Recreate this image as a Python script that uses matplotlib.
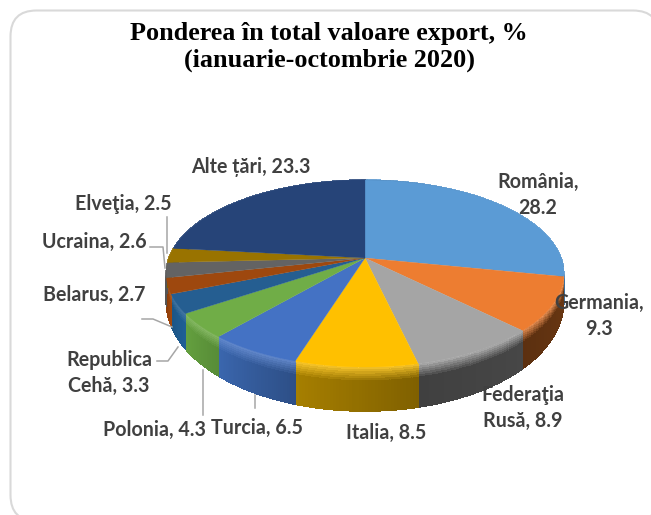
import numpy as np
import matplotlib
matplotlib.use('Agg')
import matplotlib.pyplot as plt
from matplotlib.collections import PolyCollection
from matplotlib.colors import to_rgb
from matplotlib.patches import FancyBboxPatch

# share of total export value, %
countries = ['România', 'Germania', 'Federaţia Rusă', 'Italia', 'Turcia', 'Polonia',
             'Republica Cehă', 'Belarus', 'Ucraina', 'Elveţia', 'Alte țări']
shares = [28.2, 9.3, 8.9, 8.5, 6.5, 4.3, 3.3, 2.7, 2.6, 2.5, 23.3]

top_colors = ['#5B9BD5', '#ED7D31', '#A5A5A5', '#FFC000', '#4472C4', '#70AD47',
              '#255E91', '#9E480E', '#636363', '#997300', '#264478']
wall_start = ['#3F6F9C', '#6B3812', '#474747', '#7F6000', '#2D4F86', '#578C37',
              '#1F5F96', '#A3480C', '#555555', '#806000', '#264478']
wall_end = ['#3F6F9C', '#5C3010', '#404040', '#A67F00', '#3A66AE', '#64A03F',
            '#1C5585', '#8A3D0A', '#555555', '#806000', '#264478']

label_text = ['România,\n28.2', 'Germania,\n9.3', 'Federaţia\nRusă, 8.9', 'Italia, 8.5',
              'Turcia, 6.5', 'Polonia, 4.3', 'Republica\nCehă, 3.3', 'Belarus, 2.7',
              'Ucraina, 2.6', 'Elveţia, 2.5', 'Alte țări, 23.3']
label_xy = [(538, 195), (599, 316), (523, 408), (386, 433), (257, 428), (154, 430),
            (109, 373), (94, 295), (94, 242), (123, 204), (251, 167)]

leaders = [[(167, 217), (167, 253)],
           [(150, 247), (163, 247), (165, 268)],
           [(142, 319), (153, 319), (172, 327)],
           [(157, 361), (168, 361), (178, 347)],
           [(203, 370), (203, 415)],
           [(255, 395), (255, 408)]]

# perspective of the pie, in pixels
cx, cy = 365, 258
a, b, k = 196, 90.9, 0.166


def project(theta, r=1.0, t=0.0):
    u, v = r * np.sin(theta), r * np.cos(theta)
    den = 1 + k * v
    depth = 24 - 20 * v
    return cx + a * u / den, cy - b * v / den + t * np.clip(depth, 0, None)


def mix(c1, c2, w):
    c1, c2 = np.array(to_rgb(c1)), np.array(to_rgb(c2))
    return tuple(c1 * (1 - w) + c2 * w)


fig = plt.figure(figsize=(6.51, 5.15), dpi=100)
ax = fig.add_axes([0, 0, 1, 1])
ax.set_xlim(0, 651)
ax.set_ylim(515, 0)
ax.axis('off')

ax.add_patch(FancyBboxPatch((10.5, 10.5), 648.5, 510.5, boxstyle='round,pad=0,rounding_size=26',
                            fc='white', ec='#D9D9D9', lw=1.5))

edges = np.cumsum([0] + shares) / sum(shares) * 2 * np.pi

# walls
bands = np.array([0, 0.03, 0.07, 0.12, 0.17, 0.22, 0.27, 0.32, 1.0])
polys, cols = [], []
for i in range(len(shares)):
    th = np.linspace(edges[i], edges[i + 1], 40)
    for j in range(len(th) - 1):
        w = (j + 0.5) / (len(th) - 1)
        wall = mix(wall_start[i], wall_end[i], w)
        rim = mix(top_colors[i], 'white', 0.18)
        for n in range(len(bands) - 1):
            x1, y1 = project(th[j], t=bands[n])
            x2, y2 = project(th[j + 1], t=bands[n])
            x3, y3 = project(th[j + 1], t=bands[n + 1])
            x4, y4 = project(th[j], t=bands[n + 1])
            polys.append([(x1, y1), (x2, y2), (x3, y3), (x4, y4)])
            cols.append(mix(rim, wall, min(1, n / (len(bands) - 2))))
ax.add_collection(PolyCollection(polys, facecolors=cols, edgecolors=cols, linewidths=0.5,
                                 antialiaseds=False))

# top faces
for i in range(len(shares)):
    th = np.linspace(edges[i], edges[i + 1], 80)
    x, y = project(th)
    ax.fill(np.r_[cx, x], np.r_[cy, y], color=top_colors[i], lw=0.2)

for pts in leaders:
    xs, ys = zip(*pts)
    ax.plot(xs, ys, color='#A6A6A6', lw=1.1)

for txt, (x, y) in zip(label_text, label_xy):
    ax.text(x, y, txt, ha='center', va='center', family='Lato', fontweight='bold',
            fontsize=14.1, color='#404040', linespacing=1.32)

ax.text(329, 47, 'Ponderea în total valoare export, %\n(ianuarie-octombrie 2020)',
        ha='center', va='center', family='Liberation Serif', fontweight='bold',
        fontsize=18.8, color='black', linespacing=1.17)

fig.savefig('out.png', dpi=100)
